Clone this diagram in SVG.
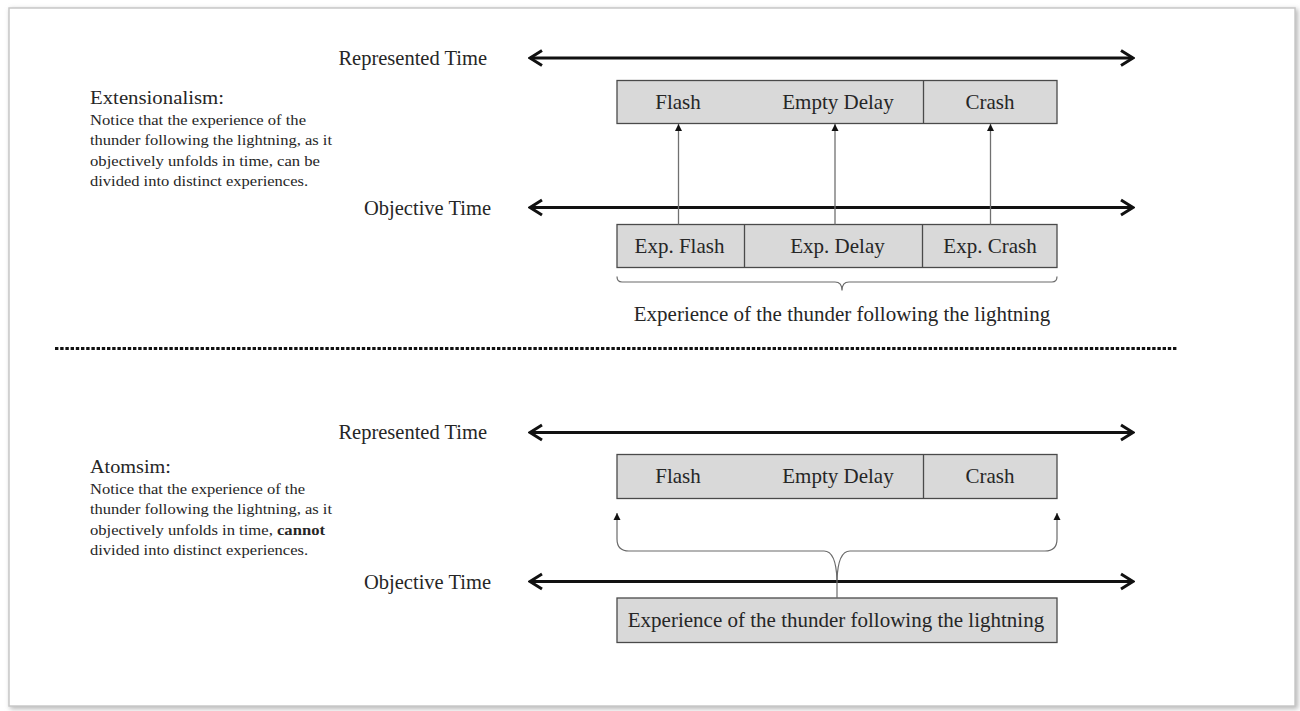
<svg xmlns="http://www.w3.org/2000/svg" width="1300" height="711" viewBox="0 0 1300 711">
  <style>
    text { font-family: "Liberation Serif", "Times New Roman", serif; fill: #262626; }
    .lbl { font-size: 21px; }
    .axis { font-size: 20.5px; text-anchor: end; }
    .head { font-size: 19px; }
    .body { font-size: 15.5px; }
    .mid { text-anchor: middle; }
    .box { fill: #d9d9d9; stroke: #4a4a4a; stroke-width: 1.3; }
    .div { stroke: #4a4a4a; stroke-width: 1.3; }
    .time { stroke: #111; stroke-width: 3; fill: none; marker-start: url(#chev); marker-end: url(#chev); }
    .link { stroke: #707070; stroke-width: 1.3; fill: none; }
    .brace { stroke: #6a6a6a; stroke-width: 1.2; fill: none; }
  </style>
  <defs>
    <marker id="chev" viewBox="-16 -11 18 22" markerWidth="18" markerHeight="22" refX="0" refY="0" orient="auto-start-reverse" markerUnits="userSpaceOnUse">
      <path d="M-12,-7.5 L0,0 L-12,7.5" fill="none" stroke="#111" stroke-width="3" stroke-linejoin="miter"/>
    </marker>
    <marker id="tip" viewBox="-8 -5 9 10" markerWidth="9" markerHeight="10" refX="0" refY="0" orient="auto" markerUnits="userSpaceOnUse">
      <path d="M-7,-3.5 L0,0 L-7,3.5 Z" fill="#111"/>
    </marker>
    <filter id="shade" x="-5%" y="-5%" width="110%" height="110%">
      <feGaussianBlur stdDeviation="2.5"/>
    </filter>
  </defs>

  <!-- page -->
  <rect width="1300" height="711" fill="#ffffff"/>
  <rect x="10" y="9" width="1288" height="700" fill="#b8b8b8" filter="url(#shade)"/>
  <rect x="9" y="8" width="1286" height="698" fill="#ffffff" stroke="#c8c8c8" stroke-width="1.5"/>

  <!-- section 1: extensionalism -->
  <g id="note-extensionalism">
    <text class="head" x="90" y="104" textLength="134" lengthAdjust="spacingAndGlyphs">Extensionalism:</text>
    <text class="body" x="90" y="125" textLength="216" lengthAdjust="spacingAndGlyphs">Notice that the experience of the</text>
    <text class="body" x="90" y="145" textLength="242" lengthAdjust="spacingAndGlyphs">thunder following the lightning,  as it</text>
    <text class="body" x="90" y="165.5" textLength="230" lengthAdjust="spacingAndGlyphs">objectively unfolds in time, can be</text>
    <text class="body" x="90" y="185.5" textLength="218" lengthAdjust="spacingAndGlyphs">divided into distinct experiences.</text>
  </g>

  <g id="axis-represented-1">
    <text class="axis" x="487" y="64.5">Represented Time</text>
  </g>
  <g id="axis-objective-1">
    <text class="axis" x="491" y="214.5">Objective Time</text>
  </g>

  <g id="represented-1">
    <rect class="box" x="617" y="80.5" width="440" height="43"/>
    <line class="div" x1="923.5" y1="80.5" x2="923.5" y2="123.5"/>
    <text class="lbl mid" x="678" y="109">Flash</text>
    <text class="lbl mid" x="838" y="109">Empty Delay</text>
    <text class="lbl mid" x="990" y="109">Crash</text>
  </g>

  <g id="experienced-1">
    <rect class="box" x="617" y="224.5" width="440" height="43"/>
    <line class="div" x1="744.5" y1="224.5" x2="744.5" y2="267.5"/>
    <line class="div" x1="922.5" y1="224.5" x2="922.5" y2="267.5"/>
    <text class="lbl mid" x="679.5" y="253">Exp. Flash</text>
    <text class="lbl mid" x="837.5" y="253">Exp. Delay</text>
    <text class="lbl mid" x="990" y="253">Exp. Crash</text>
  </g>

  <g id="whole-experience-1">
    <text class="lbl mid" x="842" y="321">Experience of the thunder following the lightning</text>
  </g>

  <!-- separator -->
  <line x1="55" y1="348.5" x2="1178" y2="348.5" stroke="#111" stroke-width="3.2" stroke-dasharray="3.4 1.8"/>

  <!-- section 2: atomism -->
  <g id="note-atomism">
    <text class="head" x="90" y="473" textLength="81" lengthAdjust="spacingAndGlyphs">Atomsim:</text>
    <text class="body" x="90" y="494" textLength="215" lengthAdjust="spacingAndGlyphs">Notice that the experience of the</text>
    <text class="body" x="90" y="514" textLength="242" lengthAdjust="spacingAndGlyphs">thunder following the lightning,  as it</text>
    <text class="body" x="90" y="534.5" textLength="235" lengthAdjust="spacingAndGlyphs">objectively unfolds in time, <tspan font-weight="bold">cannot</tspan></text>
    <text class="body" x="90" y="554.5" textLength="218" lengthAdjust="spacingAndGlyphs">divided into distinct experiences.</text>
  </g>

  <g id="axis-represented-2">
    <text class="axis" x="487" y="438.5">Represented Time</text>
  </g>
  <g id="axis-objective-2">
    <text class="axis" x="491" y="588.5">Objective Time</text>
  </g>

  <g id="represented-2">
    <rect class="box" x="617" y="454.5" width="440" height="44"/>
    <line class="div" x1="923.5" y1="454.5" x2="923.5" y2="498.5"/>
    <text class="lbl mid" x="678" y="483">Flash</text>
    <text class="lbl mid" x="838" y="483">Empty Delay</text>
    <text class="lbl mid" x="990" y="483">Crash</text>
  </g>

  <g id="whole-experience-2">
    <rect class="box" x="617" y="598" width="440" height="44.5"/>
    <text class="lbl mid" x="836" y="627">Experience of the thunder following the lightning</text>
  </g>

  <!-- connectors -->
  <g id="connectors">
    <line class="time" x1="530" y1="58" x2="1133" y2="58"/>
    <line class="time" x1="530" y1="207.5" x2="1133" y2="207.5"/>
    <line class="time" x1="530" y1="432.5" x2="1133" y2="432.5"/>
    <line class="time" x1="530" y1="581.5" x2="1133" y2="581.5"/>

    <line class="link" x1="678.5" y1="224.5" x2="678.5" y2="124" marker-end="url(#tip)"/>
    <line class="link" x1="835" y1="224.5" x2="835" y2="124" marker-end="url(#tip)"/>
    <line class="link" x1="990.5" y1="224.5" x2="990.5" y2="124" marker-end="url(#tip)"/>

    <path class="brace" d="M617,276.5 Q617,282 622,282 L835,282 Q842,282 842,290.5 Q842,282 849,282 L1052,282 Q1057,282 1057,276.5"/>

    <path class="brace" d="M837,580 Q836,551 824,551 L629,551 Q617,551 617,539 L617,513" marker-end="url(#tip)"/>
    <path class="brace" d="M837,580 Q838,551 850,551 L1045,551 Q1057,551 1057,539 L1057,513" marker-end="url(#tip)"/>
    <line class="brace" x1="837" y1="580" x2="837" y2="598"/>
  </g>
</svg>
